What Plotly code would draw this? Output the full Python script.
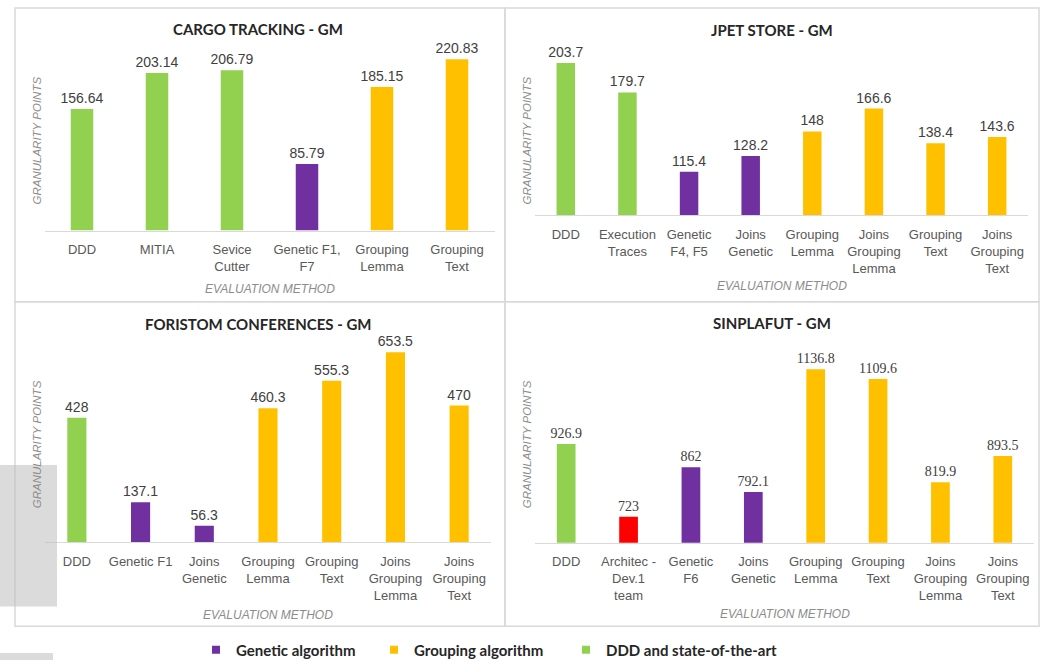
import plotly.graph_objects as go

W, H = 1047, 667

# ---------------- data ----------------
cargo_labels = ["DDD", "MITIA", "Sevice<br>Cutter", "Genetic F1,<br>F7", "Grouping<br>Lemma", "Grouping<br>Text"]
cargo_values = [156.64, 203.14, 206.79, 85.79, 185.15, 220.83]
cargo_groups = ["ddd", "ddd", "ddd", "genetic", "grouping", "grouping"]

jpet_labels = ["DDD", "Execution<br>Traces", "Genetic<br>F4, F5", "Joins<br>Genetic", "Grouping<br>Lemma",
               "Joins<br>Grouping<br>Lemma", "Grouping<br>Text", "Joins<br>Grouping<br>Text"]
jpet_values = [203.7, 179.7, 115.4, 128.2, 148, 166.6, 138.4, 143.6]
jpet_groups = ["ddd", "ddd", "genetic", "genetic", "grouping", "grouping", "grouping", "grouping"]

foristom_labels = ["DDD", "Genetic F1", "Joins<br>Genetic", "Grouping<br>Lemma", "Grouping<br>Text",
                   "Joins<br>Grouping<br>Lemma", "Joins<br>Grouping<br>Text"]
foristom_values = [428, 137.1, 56.3, 460.3, 555.3, 653.5, 470]
foristom_groups = ["ddd", "genetic", "genetic", "grouping", "grouping", "grouping", "grouping"]

sinplafut_labels = ["DDD", "Architec -<br>Dev.1<br>team", "Genetic<br>F6", "Joins<br>Genetic", "Grouping<br>Lemma",
                    "Grouping<br>Text", "Joins<br>Grouping<br>Lemma", "Joins<br>Grouping<br>Text"]
sinplafut_values = [926.9, 723, 862, 792.1, 1136.8, 1109.6, 819.9, 893.5]
sinplafut_groups = ["ddd", "architect", "genetic", "genetic", "grouping", "grouping", "grouping", "grouping"]

panel_titles = ["CARGO TRACKING - GM", "JPET STORE - GM", "FORISTOM CONFERENCES - GM", "SINPLAFUT - GM"]
y_ranges = [[0, 250], [80, 220], [0, 700], [650, 1200]]

legend_names = ["Genetic algorithm", "Grouping algorithm", "DDD and state-of-the-art"]
legend_keys = ["genetic", "grouping", "ddd"]

colors = {"genetic": "#7030A0", "grouping": "#FFC000", "ddd": "#92D050", "architect": "#FF0000"}

# ---------------- layout geometry (pixels) ----------------
def fx(px):
    return px / W

def fy(py):
    return 1 - py / H

# plot areas: (x0, x1, ytop, ybottom)
areas = [(44.5, 494.5, 37.1, 233.0),
         (535.0, 1028.0, 43.3, 217.5),
         (45.0, 491.0, 342.2, 548.0),
         (535.0, 1034.0, 350.5, 548.5)]
panels = [(15, 8, 505, 305), (505, 8, 1039, 305), (15, 305, 505, 633), (505, 305, 1039, 633)]
title_pos = [(258, 29), (772, 30), (258, 327), (772, 326)]
ytitle_pos = [(37, 142), (527, 142), (37, 449), (527, 449)]
xtitle_y = [292, 289, 622, 621]

datasets = [(cargo_labels, cargo_values, cargo_groups),
            (jpet_labels, jpet_values, jpet_groups),
            (foristom_labels, foristom_values, foristom_groups),
            (sinplafut_labels, sinplafut_values, sinplafut_groups)]

fig = go.Figure()
layout = dict(width=W, height=H, margin=dict(l=0, r=0, t=0, b=0),
              paper_bgcolor="white", plot_bgcolor="rgba(0,0,0,0)",
              barmode="overlay", showlegend=True)

annotations = []
shapes = []
SANS = "Liberation Sans, Arial, sans-serif"

for i, ((labels, values, groups), (x0, x1, yt, yb)) in enumerate(zip(datasets, areas)):
    n = i + 1
    xa = "x" if n == 1 else f"x{n}"
    ya = "y" if n == 1 else f"y{n}"
    valfont = dict(family="Liberation Serif, Times New Roman, serif", size=14, color="#404040") if n == 4 else \
        dict(family=SANS, size=14, color="#404040")
    fig.add_trace(go.Bar(
        x=labels, y=values, xaxis=xa, yaxis=ya, width=0.3,
        marker=dict(color=[colors[g] for g in groups], line=dict(width=0)),
        text=[f"{v:g}" for v in values], textposition="outside", cliponaxis=False,
        constraintext="none", textfont=valfont, showlegend=False, hoverinfo="x+y"))
    layout["xaxis" if n == 1 else f"xaxis{n}"] = dict(
        domain=[fx(x0), fx(x1)], anchor=ya, type="category",
        showline=True, linecolor="#d9d9d9", linewidth=1, showgrid=False, zeroline=False,
        ticks="outside", ticklen=7, tickcolor="rgba(0,0,0,0)",
        tickfont=dict(family=SANS, size=13, color="#595959"),
        tickangle=0, fixedrange=True)
    layout["yaxis" if n == 1 else f"yaxis{n}"] = dict(
        domain=[fy(yb), fy(yt)], anchor=xa, range=y_ranges[i],
        showline=False, showgrid=False, zeroline=False, showticklabels=False, ticks="",
        fixedrange=True)
    # panel border
    px0, py0, px1, py1 = panels[i]
    shapes.append(dict(type="rect", xref="paper", yref="paper", x0=fx(px0), x1=fx(px1), y0=fy(py1), y1=fy(py0),
                       line=dict(color="#d9d9d9", width=1.5), fillcolor="rgba(0,0,0,0)", layer="below"))
    # title
    tx, ty = title_pos[i]
    annotations.append(dict(text=f"<b>{panel_titles[i]}</b>", x=fx(tx), y=fy(ty), xref="paper", yref="paper",
                            showarrow=False, xanchor="center", yanchor="middle",
                            font=dict(family="Lato, sans-serif", size=15, color="#262626")))
    # y title
    yx, yy = ytitle_pos[i]
    annotations.append(dict(text="<i>GRANULARITY POINTS</i>", x=fx(yx), y=fy(yy), xref="paper", yref="paper",
                            showarrow=False, textangle=-90, xanchor="center", yanchor="middle",
                            font=dict(family=SANS, size=11.5, color="#8c8c8c")))
    # x title
    annotations.append(dict(text="<i>EVALUATION METHOD</i>", x=fx((x0 + x1) / 2), y=fy(xtitle_y[i]),
                            xref="paper", yref="paper", showarrow=False, xanchor="center", yanchor="middle",
                            font=dict(family=SANS, size=12, color="#8c8c8c")))

# legend entries (one legend per entry for exact placement)
legend_text_x = [238, 416, 608]
for k, (name, key) in enumerate(zip(legend_names, legend_keys)):
    lname = "legend" if k == 0 else f"legend{k + 1}"
    fig.add_trace(go.Scatter(x=[None], y=[None], mode="markers", name=f"<b>{name}</b>",
                             marker=dict(symbol="square", size=8, color=colors[key]),
                             legend=lname, showlegend=True, hoverinfo="skip"))
    layout[lname] = dict(x=fx(legend_text_x[k] - 42), y=fy(657), xanchor="left", yanchor="middle",
                         orientation="h", bgcolor="rgba(0,0,0,0)", borderwidth=0, itemwidth=30,
                         font=dict(family="Lato, sans-serif", size=15, color="#262626"))

# faint gray blocks present in the source image
shapes.append(dict(type="rect", xref="paper", yref="paper", x0=fx(0), x1=fx(57), y0=fy(613), y1=fy(470),
                   line=dict(width=0), fillcolor="rgba(190,190,190,0.55)", layer="above"))
shapes.append(dict(type="rect", xref="paper", yref="paper", x0=fx(0), x1=fx(53), y0=fy(667), y1=fy(660),
                   line=dict(width=0), fillcolor="rgba(190,190,190,0.55)", layer="above"))

layout["annotations"] = annotations
layout["shapes"] = shapes
fig.update_layout(**layout)
fig.write_html("out.html")
